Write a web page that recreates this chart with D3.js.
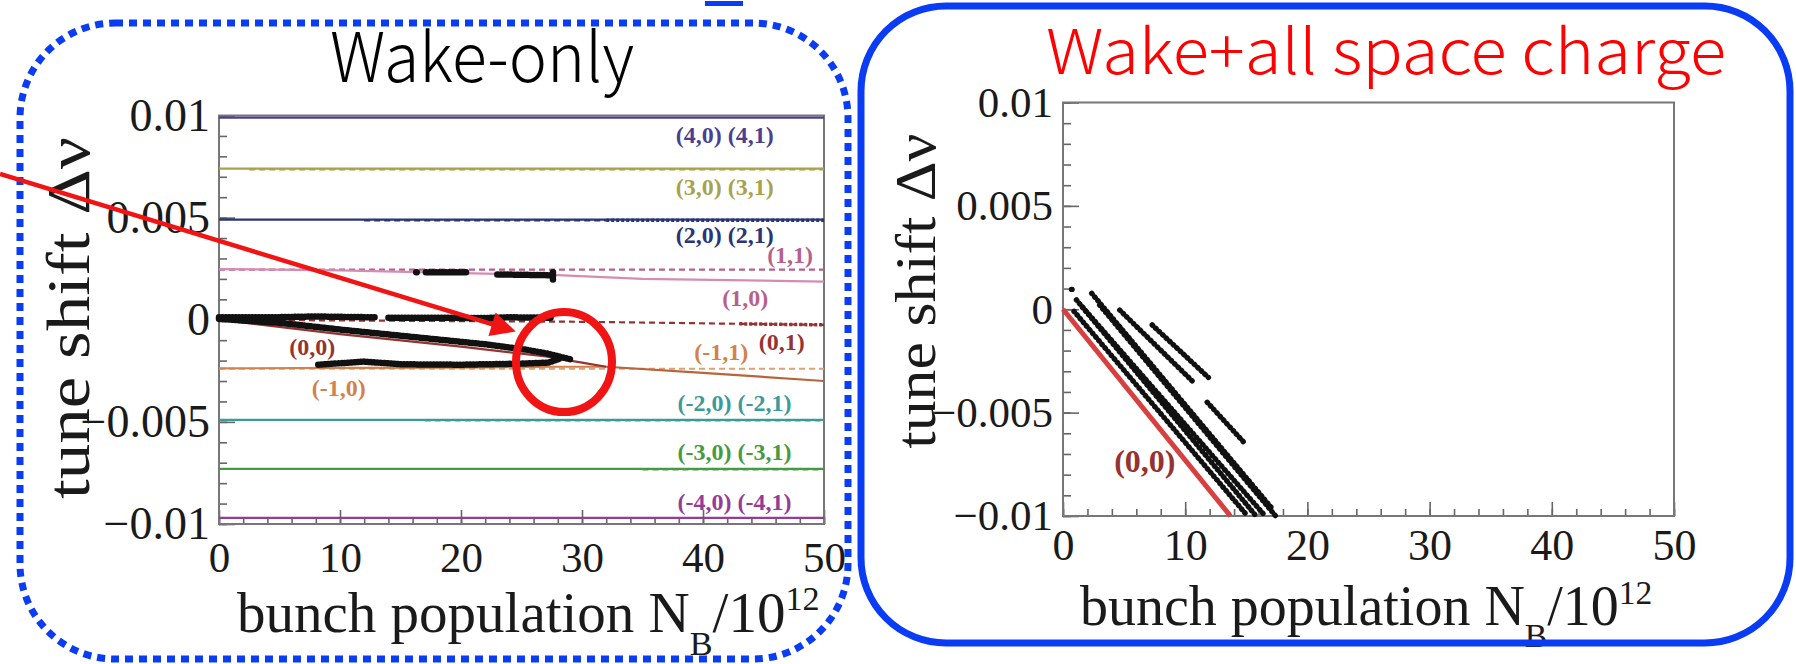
<!DOCTYPE html>
<html><head><meta charset="utf-8">
<script src="https://cdn.jsdelivr.net/npm/d3@7"></script>
<style>body{margin:0;background:#fff}</style>
</head><body>
<svg id="c" width="1796" height="664"></svg>
<script>
// ---------- data ----------
const xTickValues = [0, 10, 20, 30, 40, 50];
const yTickValues = [-0.01, -0.005, 0, 0.005, 0.01];
const xDomain = [0, 50];
const yDomain = [-0.01, 0.01];

const modeColors = {
  m4: "#4d3f8f", m3: "#a8a24a", m2: "#2b3478", m1: "#b8608c", m1s: "#d48cb4",
  m0: "#963232", mm1: "#d2824a", mm1d: "#e2a070", merge: "#b8643c",
  mm2: "#3c9a9a", mm3: "#469a40", mm4: "#963c96"
};

// wake-only mode lines: [mode colour key, style, points [N, dv]]
const wakeModeLines = [
  ["m4", "solid", [[0, 0.0099], [50, 0.0099]]],
  ["m3", "solid", [[0, 0.0074], [50, 0.0074]]],
  ["m3", "dash", [[2.5, 0.00736], [50, 0.00736]]],
  ["m2", "solid", [[0, 0.0049], [50, 0.0049]]],
  ["m2", "dash", [[12, 0.00487], [32, 0.00487]]],
  ["m2", "dot", [[32, 0.00487], [50, 0.00487]]],
  ["m1", "dash", [[0, 0.00245], [50, 0.00245]]],
  ["m1s", "solid", [[0, 0.00248], [10, 0.00242], [20, 0.00228], [27.5, 0.0022], [35, 0.002], [50, 0.00187]]],
  ["m0", "dash", [[0, 0.0], [30, -0.0001], [50, -0.00025]]],
  ["m0", "dot", [[43, -0.0002], [50, -0.00025]]],
  ["mm1d", "dash", [[0, -0.0024], [50, -0.0024]]],
  ["mm1", "solid", [[0, -0.00238], [10, -0.00236], [20, -0.00234], [28, -0.0023], [32, -0.0023]]],
  ["m0", "solid", [[0, 0.0], [10, -0.0007], [20, -0.00132], [27, -0.0018], [30, -0.0021], [32, -0.0023]]],
  ["merge", "solid", [[32, -0.0023], [40, -0.0026], [50, -0.003]]],
  ["mm2", "solid", [[0, -0.0049], [50, -0.0049]]],
  ["mm2", "dash", [[17, -0.00493], [50, -0.00493]]],
  ["mm3", "solid", [[0, -0.0073], [50, -0.0073]]],
  ["mm3", "dash", [[35, -0.00733], [50, -0.00733]]],
  ["mm4", "solid", [[0, -0.0097], [50, -0.0097]]]
];

// wake-only mode labels: [text, colour key, N, dv]
const wakeModeLabels = [
  ["(4,0) (4,1)", "m4", 41.8, 0.00905],
  ["(3,0) (3,1)", "m3", 41.8, 0.0065],
  ["(2,0) (2,1)", "m2", 41.8, 0.00415],
  ["(1,1)", "m1", 47.2, 0.00317],
  ["(1,0)", "m1", 43.5, 0.00107],
  ["(0,1)", "m0", 46.5, -0.00109],
  ["(-1,1)", "mm1", 41.5, -0.00158],
  ["(0,0)", "m0", 7.7, -0.00133],
  ["(-1,0)", "mm1", 9.9, -0.00334],
  ["(-2,0) (-2,1)", "mm2", 42.6, -0.00408],
  ["(-3,0) (-3,1)", "mm3", 42.6, -0.00648],
  ["(-4,0) (-4,1)", "mm4", 42.6, -0.00892]
];

// wake-only simulated tune tracks (black)
const wakeTracks = [
  [[0, 0.00012], [4.2, 0.00012], [8, 0.00016], [12.9, 0.00012]],
  [[14.0, 0.0001], [18, 0.0001], [21.7, 0.00008], [24, 0.00012], [27.6, 0.0001]],
  [[0, 0.00004], [5.2, -0.00016], [10, -0.00048], [15.3, -0.0008], [22, -0.0012], [25.4, -0.00147], [27.1, -0.00165], [29.2, -0.00196]],
  [[8.2, -0.0022], [12, -0.00205], [15, -0.00218], [20, -0.0022], [25, -0.00215], [27.2, -0.0021], [28.2, -0.0019]],
  [[16.3, 0.00232], [16.4, 0.00232]],
  [[17.1, 0.00232], [20.5, 0.00232]],
  [[23.0, 0.00222], [27.6, 0.00218]],
  [[27.6, 0.00232], [27.6, 0.00188]]
];

// wake + space charge: (0,0) mode and simulated tracks
const scMode00 = [[0, 0.0], [13.7, -0.01]];
const scTracks = [
  [[0.7, 0.00096], [0.8, 0.00096]],
  [[0.9, -0.0001], [15.1, -0.01]],
  [[1.1, 0.00045], [15.8, -0.01]],
  [[1.6, 0.0001], [16.4, -0.0099]],
  [[2.35, 0.00077], [17.2, -0.0097]],
  [[3.0, 0.0002], [17.4, -0.01]],
  [[4.64, -0.00004], [10.8, -0.0036]],
  [[7.3, -0.00076], [11.9, -0.0033]],
  [[11.8, -0.0045], [14.75, -0.0064]]
];
const scLabel = ["(0,0)", 6.7, -0.00734];

// ---------- drawing ----------
const svg = d3.select("#c");
const serif = "'Liberation Serif','Times New Roman',serif";
const jp = "'Noto Sans CJK JP','Noto Sans',sans-serif";

const xL = d3.scaleLinear(xDomain, [219, 824]);
const yL = d3.scaleLinear(yDomain, [524, 115.5]);
const xR = d3.scaleLinear(xDomain, [1063, 1674]);
const yR = d3.scaleLinear(yDomain, [516, 102.5]);

const yFmt = v => v === 0 ? "0" : (v < 0 ? "\u2212" : "") + String(Math.abs(v));

function panel(x, y, o) {
  const g = svg.append("g");
  const y0 = y.range()[0];
  const x0 = x.range()[0];
  const tickStyle = s => {
    s.select(".domain").remove();
    s.selectAll("line").attr("stroke", "#666").attr("stroke-width", 1.6);
    s.selectAll("text").attr("font-family", serif).attr("fill", "#1a1a1a");
  };
  g.append("g").attr("transform", `translate(0,${y0})`)
    .call(d3.axisBottom(x).tickValues(d3.range(0, 51, 2)).tickSize(-7).tickFormat(""))
    .call(tickStyle);
  g.append("g").attr("transform", `translate(0,${y0})`)
    .call(d3.axisBottom(x).tickValues(xTickValues).tickSize(-14).tickPadding(o.xPad).tickFormat(d3.format("d")))
    .call(tickStyle)
    .selectAll("text").attr("font-size", o.xFs);
  g.append("g").attr("transform", `translate(${x0},0)`)
    .call(d3.axisLeft(y).tickValues(d3.range(-10, 11, 1).map(d => d / 1000)).tickSize(-8).tickFormat(""))
    .call(tickStyle);
  g.append("g").attr("transform", `translate(${x0},0)`)
    .call(d3.axisLeft(y).tickValues(yTickValues).tickSize(-16).tickPadding(o.yPad).tickFormat(yFmt))
    .call(tickStyle)
    .selectAll("text").attr("font-size", o.yFs);
  g.append("rect")
    .attr("x", x0).attr("y", y.range()[1])
    .attr("width", x.range()[1] - x0).attr("height", y0 - y.range()[1])
    .attr("fill", "none").attr("stroke", "#777").attr("stroke-width", 2);
  return g;
}

const gL = panel(xL, yL, {xPad: 17, xFs: 43, yPad: 9, yFs: 46});
const gR = panel(xR, yR, {xPad: 13, xFs: 44, yPad: 10, yFs: 43});

const lineL = d3.line().x(d => xL(d[0])).y(d => yL(d[1]));
const lineR = d3.line().x(d => xR(d[0])).y(d => yR(d[1]));

const styleDash = {solid: null, dash: "6 4", dot: "3 2"};
const styleW = {solid: 2.2, dash: 2.2, dot: 3.5};
gL.append("g").selectAll("path").data(wakeModeLines).join("path")
  .attr("d", d => lineL(d[2]))
  .attr("fill", "none")
  .attr("stroke", d => modeColors[d[0]])
  .attr("stroke-width", d => styleW[d[1]])
  .attr("stroke-dasharray", d => styleDash[d[1]]);

gL.append("g").selectAll("path").data(wakeTracks).join("path")
  .attr("d", lineL)
  .attr("fill", "none").attr("stroke", "#111")
  .attr("stroke-width", 6.5).attr("stroke-linecap", "round")
  .attr("stroke-dasharray", "0.5 2.8");

gL.append("g").selectAll("text").data(wakeModeLabels).join("text")
  .attr("x", d => xL(d[2])).attr("y", d => yL(d[3]))
  .attr("text-anchor", "middle").attr("dominant-baseline", "central")
  .attr("font-family", serif).attr("font-weight", "bold").attr("font-size", 24)
  .attr("fill", d => modeColors[d[1]])
  .text(d => d[0]);

gR.append("g").selectAll("path").data(scTracks).join("path")
  .attr("d", lineR)
  .attr("fill", "none").attr("stroke", "#111")
  .attr("stroke-width", 5.4).attr("stroke-linecap", "round")
  .attr("stroke-dasharray", "0.5 4.3");
gR.append("path").attr("d", lineR(scMode00))
  .attr("fill", "none").attr("stroke", "#d84040").attr("stroke-width", 5);
gR.append("text")
  .attr("x", xR(scLabel[1])).attr("y", yR(scLabel[2]))
  .attr("text-anchor", "middle").attr("dominant-baseline", "central")
  .attr("font-family", serif).attr("font-weight", "bold").attr("font-size", 32)
  .attr("fill", "#963232").text(scLabel[0]);

// axis titles
function yTitle(xb, yc, len, fs) {
  svg.append("text")
    .attr("transform", `translate(${xb},${yc}) rotate(-90)`)
    .attr("text-anchor", "middle")
    .attr("font-family", serif).attr("font-size", fs).attr("fill", "#1a1a1a")
    .attr("textLength", len).attr("lengthAdjust", "spacingAndGlyphs")
    .text("tune shift  \u0394\u03bd");
}
yTitle(89, 318, 362, 62);
yTitle(935, 291, 315, 57);

function xTitle(x0, yb, fs) {
  const t = svg.append("text").attr("x", x0).attr("y", yb)
    .attr("font-family", serif).attr("font-size", fs).attr("fill", "#1a1a1a");
  t.append("tspan").text("bunch population N");
  t.append("tspan").attr("font-size", fs * 0.6).attr("dy", fs * 0.4).text("B");
  t.append("tspan").attr("dy", -fs * 0.4).text("/10");
  t.append("tspan").attr("font-size", fs * 0.6).attr("dy", -fs * 0.38).text("12");
}
xTitle(237, 632, 57);
xTitle(1080, 625, 56);

// titles
svg.append("text").attr("x", 482).attr("y", 82).attr("text-anchor", "middle")
  .attr("font-family", jp).attr("font-weight", 300).attr("font-size", 68)
  .attr("textLength", 304).attr("lengthAdjust", "spacingAndGlyphs")
  .attr("fill", "#000").text("Wake-only");
svg.append("text").attr("x", 1386).attr("y", 74).attr("text-anchor", "middle")
  .attr("font-family", jp).attr("font-weight", 300).attr("font-size", 62)
  .attr("textLength", 680).attr("lengthAdjust", "spacingAndGlyphs")
  .attr("fill", "#ff0000").text("Wake+all space charge");

// boxes
svg.append("rect").attr("x", 20).attr("y", 23).attr("width", 828).attr("height", 636)
  .attr("rx", 95).attr("fill", "none").attr("stroke", "#0a3cf5")
  .attr("stroke-width", 7).attr("stroke-dasharray", "8 6");
svg.append("rect").attr("x", 861).attr("y", 6).attr("width", 929).attr("height", 637)
  .attr("rx", 85).attr("fill", "none").attr("stroke", "#0a3cf5").attr("stroke-width", 7);
svg.append("rect").attr("x", 705).attr("y", 1).attr("width", 38).attr("height", 5).attr("fill", "#0a3cf5");

// arrow + circle
svg.append("defs").append("marker").attr("id", "ah")
  .attr("viewBox", "0 0 10 10").attr("refX", 8).attr("refY", 5)
  .attr("markerWidth", 7).attr("markerHeight", 5.5).attr("markerUnits", "strokeWidth")
  .attr("orient", "auto")
  .append("path").attr("d", "M0,0L10,5L0,10Z").attr("fill", "#f01414");
svg.append("line").attr("x1", 0).attr("y1", 174).attr("x2", 511).attr("y2", 330)
  .attr("stroke", "#f01414").attr("stroke-width", 4.5).attr("marker-end", "url(#ah)");
svg.append("ellipse").attr("cx", 564).attr("cy", 362).attr("rx", 48).attr("ry", 50)
  .attr("fill", "none").attr("stroke", "#f01414").attr("stroke-width", 8);
</script>
</body></html>
